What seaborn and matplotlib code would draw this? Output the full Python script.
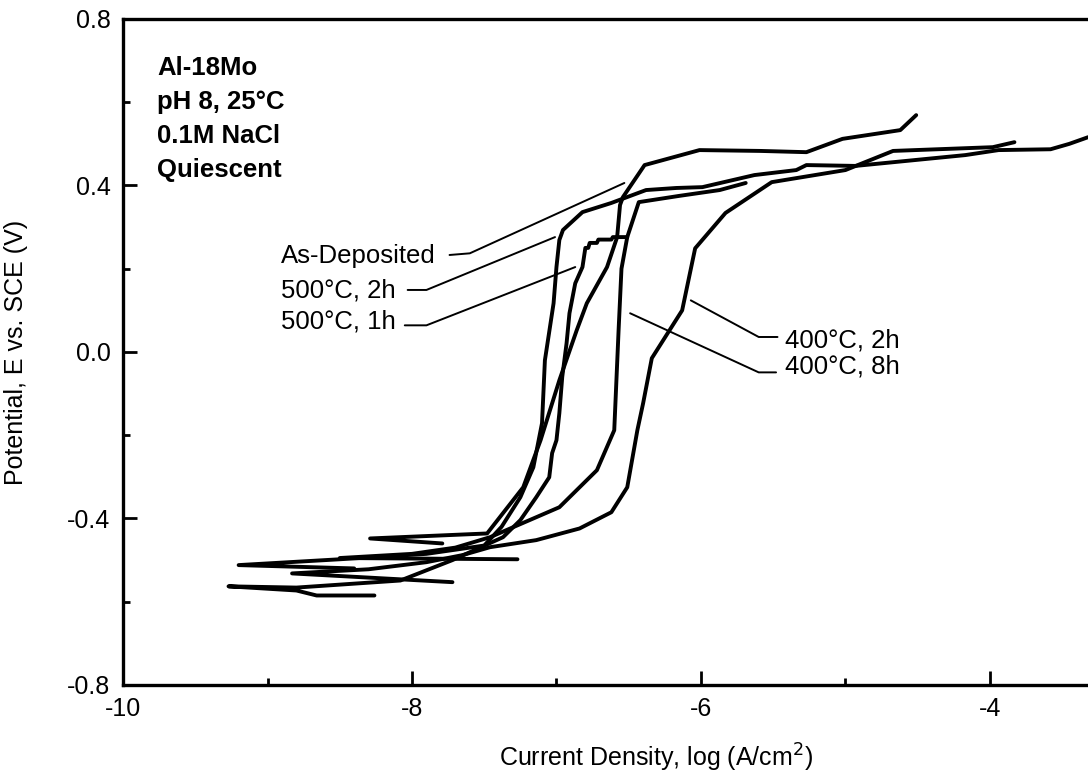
import pandas as pd
import seaborn as sns
import matplotlib.pyplot as plt
from matplotlib.ticker import MultipleLocator

# ------------------ data ------------------
# x = log current density (A/cm2), y = potential E vs. SCE (V)
as_dep_x = [-7.79, -8.29, -7.48, -7.23, -7.11, -6.98, -6.86, -6.79, -6.65, -6.58,
            -6.56, -6.54, -6.39, -6.01, -5.59, -5.27, -5.02, -4.62, -4.51]
as_dep_y = [-0.460, -0.448, -0.436, -0.325, -0.212, -0.068, 0.052, 0.117, 0.204, 0.276,
            0.353, 0.372, 0.449, 0.485, 0.483, 0.480, 0.512, 0.533, 0.569]

h500_2_x = [-8.40, -9.20, -8.50, -7.90, -7.50, -7.38, -7.25, -7.16, -7.10, -7.08,
            -7.02, -7.00, -6.98, -6.955, -6.82, -6.62, -6.38, -6.17, -5.99, -5.63,
            -5.34, -5.27, -4.93, -4.17, -3.94, -3.58, -3.45, -3.32]
h500_2_y = [-0.520, -0.512, -0.498, -0.485, -0.465, -0.420, -0.349, -0.277, -0.171, -0.020,
            0.117, 0.204, 0.269, 0.293, 0.336, 0.358, 0.389, 0.394, 0.396, 0.425,
            0.437, 0.449, 0.447, 0.473, 0.485, 0.487, 0.500, 0.516]

h500_1_x = [-8.26, -8.66, -8.80, -9.27, -8.80, -8.08, -7.72, -7.37, -7.25, -7.14,
            -7.05, -7.03, -7.00, -6.98, -6.96, -6.93, -6.91, -6.87, -6.82, -6.80,
            -6.78, -6.77, -6.72, -6.71, -6.62, -6.61, -6.51]
h500_1_y = [-0.585, -0.585, -0.573, -0.563, -0.566, -0.549, -0.500, -0.445, -0.404, -0.349,
            -0.301, -0.243, -0.212, -0.147, -0.060, 0.021, 0.093, 0.165, 0.204, 0.250,
            0.250, 0.262, 0.262, 0.270, 0.270, 0.276, 0.276]

h400_2_x = [-7.72, -8.83, -8.30, -7.90, -7.65, -7.46, -7.14, -6.84, -6.62, -6.51,
            -6.44, -6.40, -6.34, -6.13, -6.04, -5.83, -5.51, -5.00, -4.67, -3.98, -3.83]
h400_2_y = [-0.553, -0.532, -0.522, -0.505, -0.488, -0.469, -0.452, -0.424, -0.385, -0.325,
            -0.188, -0.123, -0.015, 0.100, 0.249, 0.334, 0.408, 0.437, 0.483, 0.492, 0.504]

h400_8_x = [-7.27, -8.50, -8.00, -7.70, -7.46, -7.30, -6.98, -6.72, -6.60, -6.57,
            -6.55, -6.51, -6.43, -6.15, -5.87, -5.69]
h400_8_y = [-0.498, -0.495, -0.485, -0.470, -0.445, -0.421, -0.373, -0.284, -0.188, 0.052,
            0.200, 0.276, 0.360, 0.375, 0.389, 0.406]

curve_names = ["As-Deposited", "500°C, 2h", "500°C, 1h", "400°C, 2h", "400°C, 8h"]
curve_x = [as_dep_x, h500_2_x, h500_1_x, h400_2_x, h400_8_x]
curve_y = [as_dep_y, h500_2_y, h500_1_y, h400_2_y, h400_8_y]

x_ticks = [-10, -8, -6, -4]
y_ticks = [-0.8, -0.4, 0.0, 0.4, 0.8]
y_tick_labels = ["-0.8", "-0.4", "0.0", "0.4", "0.8"]

info_lines = ["Al-18Mo", "pH 8, 25°C", "0.1M NaCl", "Quiescent"]

# ------------------ plot ------------------
sns.set_style("ticks")
plt.rcParams['font.family'] = ['Liberation Sans', 'DejaVu Sans']
plt.rcParams.update({"text.color": "black", "axes.labelcolor": "black",
                     "xtick.color": "black", "ytick.color": "black",
                     "axes.edgecolor": "black"})

fig = plt.figure(figsize=(10.88, 7.84), dpi=100)
ax = fig.add_axes([0.1131, 0.1263, 0.887, 0.8495])

for name, xs, ys in zip(curve_names, curve_x, curve_y):
    df = pd.DataFrame({"logi": xs, "E": ys})
    sns.lineplot(data=df, x="logi", y="E", sort=False, estimator=None,
                 color="black", lw=2.8, ax=ax, solid_joinstyle="round",
                 solid_capstyle="round")

# label leader lines
leaders = {
    "As-Deposited": ([-7.74, -7.60, -6.53], [0.233, 0.237, 0.406]),
    "500°C, 2h": ([-8.03, -7.90, -7.01], [0.149, 0.149, 0.276]),
    "500°C, 1h": ([-8.05, -7.90, -6.87], [0.064, 0.064, 0.204]),
    "400°C, 2h": ([-6.07, -5.60, -5.47], [0.124, 0.036, 0.036]),
    "400°C, 8h": ([-6.49, -5.60, -5.48], [0.093, -0.049, -0.049]),
}
for name, (lx, ly) in leaders.items():
    ax.plot(lx, ly, color="black", lw=1.4)

fs = 18.5
ax.text(-8.91, 0.2135, "As-Deposited", fontsize=fs, va="baseline")
ax.text(-8.91, 0.132, "500°C, 2h", fontsize=fs, va="baseline")
ax.text(-8.91, 0.057, "500°C, 1h", fontsize=fs, va="baseline")
ax.text(-5.42, 0.0115, "400°C, 2h", fontsize=fs, va="baseline")
ax.text(-5.42, -0.051, "400°C, 8h", fontsize=fs, va="baseline")

for yy, line in zip([0.665, 0.584, 0.502, 0.420], info_lines):
    ax.text(-9.765, yy, line, fontsize=18.5, fontweight="bold", va="baseline")

ax.set_xlim(-10, -3.32)
ax.set_ylim(-0.8, 0.8)
ax.set_xticks(x_ticks)
ax.set_xticklabels([str(t) for t in x_ticks])
ax.set_yticks(y_ticks)
ax.set_yticklabels(y_tick_labels)
ax.xaxis.set_minor_locator(MultipleLocator(1))
ax.yaxis.set_minor_locator(MultipleLocator(0.2))
ax.tick_params(which="major", direction="in", length=10, width=2,
               labelsize=18, pad=9)
ax.tick_params(which="minor", direction="in", length=5, width=2)

for side in ["left", "bottom", "top"]:
    ax.spines[side].set_linewidth(2.4)
ax.spines["right"].set_visible(False)

ax.set_xlabel("Current Density, log (A/cm$^2$)", fontsize=18)
ax.set_ylabel("Potential, E vs. SCE (V)", fontsize=18)
ax.xaxis.set_label_coords(0.552, -0.085)
ax.yaxis.set_label_coords(-0.098, 0.5)

fig.savefig("out.png", dpi=100)
